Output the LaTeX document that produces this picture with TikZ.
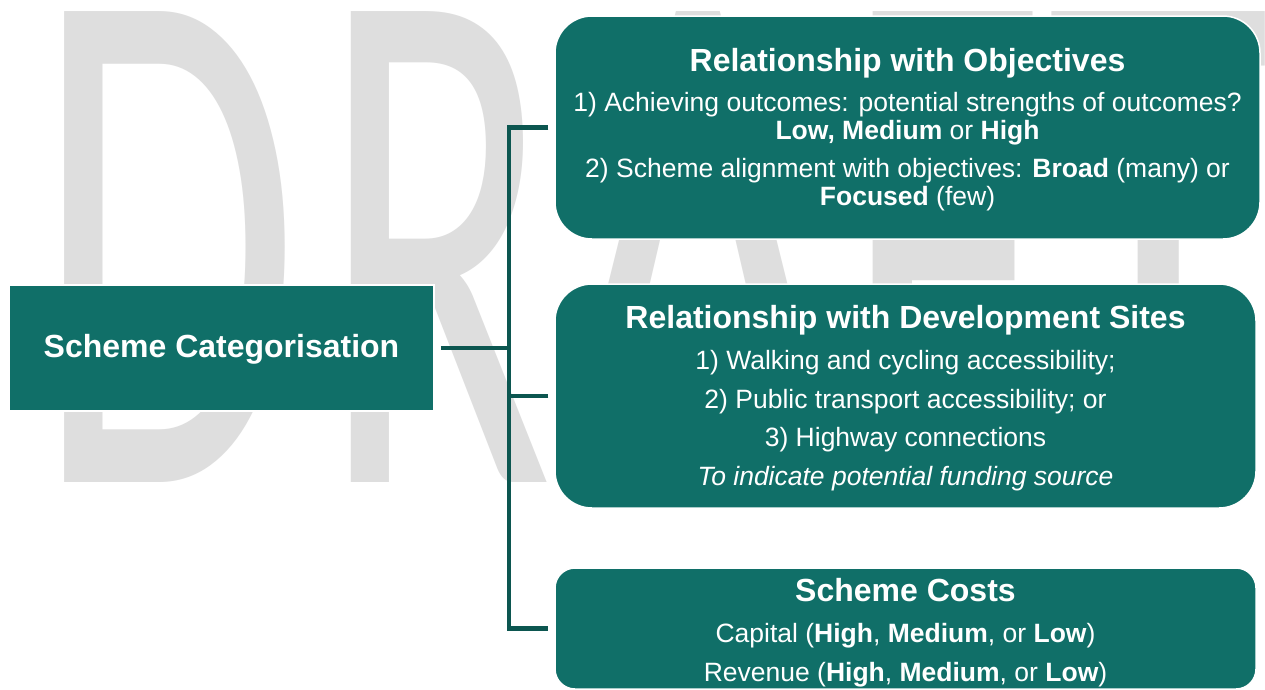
\documentclass[tikz,border=0pt]{standalone}
\usepackage{fontspec}
\usepackage{graphicx}
\setmainfont{Liberation Sans}
\newfontfamily\wmfont{Carlito}
\definecolor{boxteal}{RGB}{16,111,104}
\definecolor{lineteal}{RGB}{12,86,80}
\definecolor{wmgray}{RGB}{222,222,222}
\newcommand\wmglyph[2]{\scalebox{#1}[7.34]{\fontsize{100}{100}\selectfont\wmfont #2}}
\begin{document}
\begin{tikzpicture}[x=1pt,y=-1pt,
  box/.style={fill=boxteal, draw=white, line width=1.5pt, inner sep=0pt},
  wm/.style={inner sep=0pt, anchor=base west, text=wmgray},
  ttl/.style={text=white, font=\fontsize{32}{38}\selectfont\bfseries, anchor=base, inner sep=0pt},
  txt/.style={text=white, font=\fontsize{26.5}{30}\selectfont, anchor=base, inner sep=0pt},
  conn/.style={draw=lineteal, line width=4.5pt, line join=miter}]

\useasboundingbox[fill=white] (0,0) rectangle (1265,689);

% watermark
\node[wm] (wmD) at (35.3,482) {\wmglyph{4.29}{D}};
\node[wm] (wmR) at (320.5,482) {\wmglyph{4.29}{R}};
\node[wm] (wmA) at (557.2,482) {\wmglyph{4.86}{A}};
\node[wm] (wmF) at (843.3,482) {\wmglyph{4.4}{F}};
\node[wm] (wmT) at (1046.3,482) {\wmglyph{4.6}{T}};

% boxes
\node[box, minimum width=425pt, minimum height=126pt] (cat) at (221.5,348) {};
\node[ttl] (catT) at (221.5,357.5) {Scheme Categorisation};

\node[box, rounded corners=37pt, minimum width=705pt, minimum height=223pt] (obj) at (907.5,127.5) {};
\node[ttl] (objT) at (907.5,71) {Relationship with Objectives};
\node[txt] (obj1) at (907.5,111.7) {1) Achieving outcomes: potential strengths of outcomes?};
\node[txt] (obj2) at (907.5,139.3) {\textbf{Low, Medium} or \textbf{High}};
\node[txt] (obj3) at (907.5,177.3) {2) Scheme alignment with objectives: \textbf{Broad} (many) or};
\node[txt] (obj4) at (907.5,205) {\textbf{Focused} (few)};

\node[box, rounded corners=37pt, minimum width=701pt, minimum height=224pt] (dev) at (905.5,396) {};
\node[ttl] (devT) at (905.5,328.7) {Relationship with Development Sites};
\node[txt] (dev1) at (905.5,369.7) {1) Walking and cycling accessibility;};
\node[txt] (dev2) at (905.5,408) {2) Public transport accessibility; or};
\node[txt] (dev3) at (905.5,446) {3) Highway connections};
\node[txt] (dev4) at (905.5,485) {\textit{To indicate potential funding source}};

\node[box, rounded corners=20pt, minimum width=701pt, minimum height=121pt] (cost) at (905.5,628.5) {};
\node[ttl] (costT) at (905.5,601) {Scheme Costs};
\node[txt] (cost1) at (905.5,642.5) {Capital (\textbf{High}, \textbf{Medium}, or \textbf{Low})};
\node[txt] (cost2) at (905.5,681) {Revenue (\textbf{High}, \textbf{Medium}, or \textbf{Low})};

% connectors
\coordinate (trunk) at (508.8,0);
\draw[conn] ([xshift=-6pt]obj.west) -- (obj.west -| trunk) -- (cost.west -| trunk) -- ([xshift=-6pt]cost.west);
\draw[conn] ([xshift=6pt]cat.east) -- (cat.east -| trunk);
\draw[conn] ([xshift=-6pt]dev.west) -- (dev.west -| trunk);
\end{tikzpicture}
\end{document}
